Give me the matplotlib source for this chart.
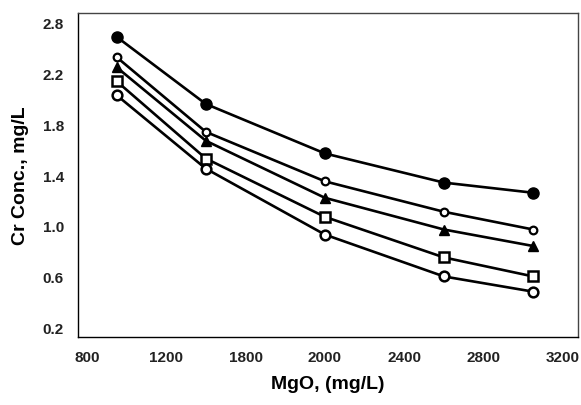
import matplotlib
matplotlib.use("Agg")
import matplotlib.pyplot as plt

mgo = [950, 1400, 2000, 2600, 3050]
series_a = [2.49, 1.96, 1.57, 1.34, 1.26]   # filled circle
series_b = [2.33, 1.74, 1.35, 1.11, 0.97]   # small open marker
series_c = [2.25, 1.67, 1.22, 0.97, 0.84]   # filled triangle
series_d = [2.14, 1.53, 1.07, 0.75, 0.60]   # open square
series_e = [2.03, 1.45, 0.93, 0.60, 0.48]   # open circle

x_ticks = [800, 1200, 1600, 2000, 2400, 2800, 3200]
x_tick_labels = ["800", "1200", "1800", "2000", "2400", "2800", "3200"]
y_ticks = [0.2, 0.6, 1.0, 1.4, 1.8, 2.2, 2.6]
y_tick_labels = ["0.2", "0.6", "1.0", "1.4", "1.8", "2.2", "2.8"]

plt.rcParams['font.family'] = ['Liberation Sans', 'DejaVu Sans']

fig = plt.figure(figsize=(5.81, 4.06), dpi=100)
ax = fig.add_axes([0.134, 0.167, 0.861, 0.799])

lw = 1.9
ax.plot(mgo, series_a, color='black', lw=lw, marker='o', ms=8, mfc='black', mec='black')
ax.plot(mgo, series_b, color='black', lw=lw, marker='o', ms=5.5, mfc='white', mec='black', mew=1.6)
ax.plot(mgo, series_c, color='black', lw=lw, marker='^', ms=7, mfc='black', mec='black')
ax.plot(mgo, series_d, color='black', lw=lw, marker='s', ms=7.5, mfc='white', mec='black', mew=1.8)
ax.plot(mgo, series_e, color='black', lw=lw, marker='o', ms=7, mfc='white', mec='black', mew=1.8)

ax.set_xlim(755, 3276)
ax.set_ylim(0.121, 2.679)
ax.set_xticks(x_ticks)
ax.set_xticklabels(x_tick_labels)
ax.set_yticks(y_ticks)
ax.set_yticklabels(y_tick_labels)
ax.tick_params(axis='both', length=0, labelsize=11, labelcolor='#222222')
ax.tick_params(axis='x', pad=9)
ax.tick_params(axis='y', pad=10)
for lab in ax.get_xticklabels() + ax.get_yticklabels():
    lab.set_fontweight('bold')

for s in ax.spines.values():
    s.set_linewidth(1.0)
    s.set_color('black')
ax.spines['top'].set_color('#444444')
ax.spines['right'].set_color('#444444')

ax.set_xlabel("MgO, (mg/L)", fontsize=14, fontweight='bold')
ax.set_ylabel("Cr Conc., mg/L", fontsize=14, fontweight='bold')
ax.xaxis.set_label_coords(0.5, -0.115)
ax.yaxis.set_label_coords(-0.098, 0.5)

fig.savefig("out.png", dpi=100)
